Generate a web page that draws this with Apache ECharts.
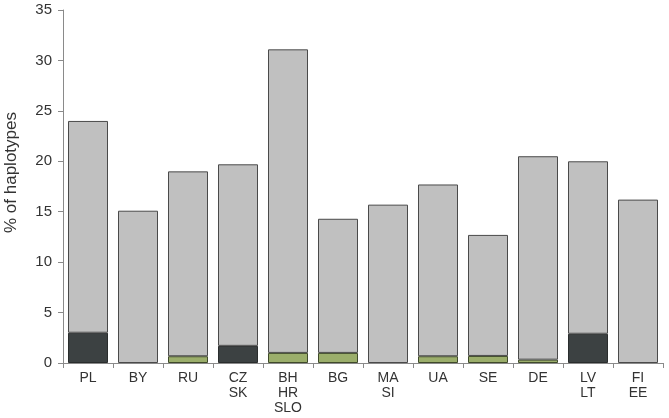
<!DOCTYPE html>
<html>
<head>
<meta charset="utf-8">
<script src="https://cdn.jsdelivr.net/npm/echarts@6/dist/echarts.min.js"></script>
<style>html,body{margin:0;padding:0;background:#fff;}#c{width:669px;height:418px;}</style>
</head>
<body>
<div id="c"></div>
<script>
const categories = ["PL", "BY", "RU", "CZ\nSK", "BH\nHR\nSLO", "BG", "MA\nSI", "UA", "SE", "DE", "LV\nLT", "FI\nEE"];
const totals = [24.0, 15.1, 19.0, 19.7, 31.1, 14.3, 15.7, 17.7, 12.7, 20.5, 20.0, 16.2];
const darkPart = [3.0, 0, 0, 1.7, 0, 0, 0, 0, 0, 0, 2.9, 0];
const greenPart = [0, 0, 0.67, 0, 1.0, 1.0, 0, 0.67, 0.7, 0.33, 0, 0];
const yTicks = [0, 5, 10, 15, 20, 25, 30, 35];

const grayPart = totals.map((t, i) => +(t - darkPart[i] - greenPart[i]).toFixed(2));
const hideZero = arr => arr.map(v => (v === 0 ? '-' : v));
const font = "'Liberation Sans', Arial, sans-serif";

const chart = echarts.init(document.getElementById('c'), null, {renderer: 'canvas'});
chart.setOption({
  animation: false,
  backgroundColor: '#ffffff',
  grid: {left: 63, right: 6, top: 10, bottom: 55, containLabel: false, outerBoundsMode: 'none'},
  xAxis: {
    type: 'category',
    data: categories,
    boundaryGap: true,
    axisLine: {lineStyle: {color: '#8a8a8a', width: 1}},
    axisTick: {show: true, length: 5, lineStyle: {color: '#8a8a8a'}},
    axisLabel: {color: '#333', fontFamily: font, fontSize: 14, lineHeight: 15, margin: 8, interval: 0}
  },
  yAxis: {
    type: 'value',
    min: yTicks[0],
    max: yTicks[yTicks.length - 1],
    interval: 5,
    name: '% of haplotypes',
    nameLocation: 'middle',
    nameGap: 43,
    nameTextStyle: {color: '#333', fontFamily: font, fontSize: 17, padding: [0, 0, 0, 28]},
    axisLine: {show: true, lineStyle: {color: '#8a8a8a', width: 1}},
    axisTick: {show: true, length: 5, lineStyle: {color: '#8a8a8a'}},
    axisLabel: {color: '#333', fontFamily: font, fontSize: 15, margin: 11},
    splitLine: {show: false}
  },
  series: [
    {
      name: 'dark', type: 'bar', stack: 's', data: hideZero(darkPart), barCategoryGap: '20%',
      itemStyle: {color: '#3c4142', borderColor: '#2a2d2d', borderWidth: 1}
    },
    {
      name: 'green', type: 'bar', stack: 's', data: hideZero(greenPart),
      itemStyle: {color: '#9bae6b', borderColor: '#3f4a2a', borderWidth: 1}
    },
    {
      name: 'gray', type: 'bar', stack: 's', data: grayPart,
      itemStyle: {color: '#c0c0c0', borderColor: '#4a4a4a', borderWidth: 1}
    }
  ]
});
</script>
</body>
</html>
